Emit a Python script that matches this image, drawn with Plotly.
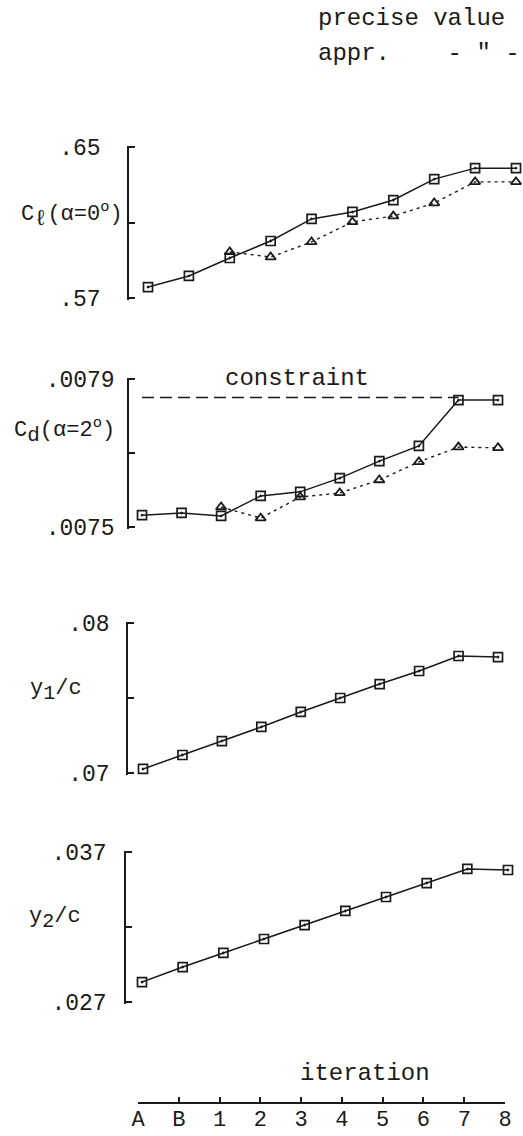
import plotly.graph_objects as go

# ---------------- data ----------------
iterations = ["A", "B", "1", "2", "3", "4", "5", "6", "7", "8"]
appr_iterations = ["1", "2", "3", "4", "5", "6", "7", "8"]

cl_precise = [0.5758, 0.5817, 0.5912, 0.6002, 0.6119, 0.6156, 0.6219, 0.6330, 0.6388, 0.6388]
cl_appr = [0.5944, 0.5917, 0.5997, 0.6103, 0.6134, 0.6203, 0.6315, 0.6315]

cd_precise = [0.007532, 0.007538, 0.007530, 0.007584, 0.007595, 0.007632, 0.007678, 0.007719, 0.007843, 0.007843]
cd_appr = [0.007554, 0.007524, 0.007581, 0.007592, 0.007627, 0.007676, 0.007716, 0.007714]
cd_constraint = 0.00785
constraint_span = ["A", "7"]

y1_precise = [0.07027, 0.07120, 0.07213, 0.07307, 0.07407, 0.07500, 0.07593, 0.07680, 0.07780, 0.07773]
y2_precise = [0.02833, 0.02933, 0.03027, 0.03120, 0.03213, 0.03307, 0.03400, 0.03493, 0.03587, 0.03580]

y_ranges = [(0.57, 0.65), (0.0075, 0.0079), (0.07, 0.08), (0.027, 0.037)]
y_tick_labels = [(".57", ".65"), (".0075", ".0079"), (".07", ".08"), (".027", ".037")]
y_titles = [
    "C<sub><span style='font-size:22px'>ℓ</span></sub>(α=0<sup>o</sup>)",
    "C<sub><span style='font-size:21px'>d</span></sub>(α=2<sup>o</sup>)",
    "y<sub><span style='font-size:20px'>1</span></sub>/c",
    "y<sub><span style='font-size:20px'>2</span></sub>/c",
]

# ---------------- layout geometry (pixels) ----------------
W, H = 523, 1136
FONT = "Liberation Mono, Courier New, monospace"
INK = "#1a1a1a"
PAD = 1.5  # px of extra axis length so the end ticks are kept


def fx(p):
    return p / W


def fy(p):
    return 1 - p / H


# x of A, x of 8, y-top, y-bottom, axis line x, label standoff, title center (x, y)
panels = [
    (148, 516, 147, 298, 128, 22, (72, 215)),
    (142, 498, 379, 527, 128, 8, (64, 430)),
    (143, 498, 623, 773, 127, 12, (56, 690)),
    (142, 508, 852, 1002, 125, 13, (55, 918)),
]

fig = go.Figure()

line_solid = dict(color=INK, width=1.5)
line_dot = dict(color=INK, width=1.4, dash="3px,4px")
sq = dict(symbol="square-open-dot", size=9, color=INK, line=dict(width=1.7, color=INK))
tri = dict(symbol="triangle-up-open", size=9, color=INK, line=dict(width=1.8, color=INK))

# panel 1
fig.add_trace(go.Scatter(x=appr_iterations, y=cl_appr, mode="lines+markers", line=line_dot,
                         marker=tri, xaxis="x", yaxis="y", cliponaxis=False, name="appr."))
fig.add_trace(go.Scatter(x=iterations, y=cl_precise, mode="lines+markers", line=line_solid,
                         marker=sq, xaxis="x", yaxis="y", cliponaxis=False, name="precise value"))
# panel 2
fig.add_trace(go.Scatter(x=constraint_span, y=[cd_constraint, cd_constraint], mode="lines",
                         line=dict(color=INK, width=1.4, dash="12px,6px"), xaxis="x2", yaxis="y2",
                         cliponaxis=False, name="constraint"))
fig.add_trace(go.Scatter(x=appr_iterations, y=cd_appr, mode="lines+markers", line=line_dot,
                         marker=tri, xaxis="x2", yaxis="y2", cliponaxis=False, name="appr."))
fig.add_trace(go.Scatter(x=iterations, y=cd_precise, mode="lines+markers", line=line_solid,
                         marker=sq, xaxis="x2", yaxis="y2", cliponaxis=False, name="precise value"))
# panel 3
fig.add_trace(go.Scatter(x=iterations, y=y1_precise, mode="lines+markers", line=line_solid,
                         marker=sq, xaxis="x3", yaxis="y3", cliponaxis=False, name="precise value"))
# panel 4
fig.add_trace(go.Scatter(x=iterations, y=y2_precise, mode="lines+markers", line=line_solid,
                         marker=sq, xaxis="x4", yaxis="y4", cliponaxis=False, name="precise value"))
# bottom iteration axis carrier
fig.add_trace(go.Scatter(x=iterations, y=[0] * len(iterations), mode="markers",
                         marker=dict(opacity=0), xaxis="x5", yaxis="y5", hoverinfo="skip",
                         showlegend=False))

layout = dict(
    template="none",
    width=W, height=H,
    margin=dict(l=0, r=0, t=0, b=0, pad=0, autoexpand=False),
    paper_bgcolor="white", plot_bgcolor="white",
    showlegend=False,
    font=dict(family=FONT, color=INK, size=22),
)

annotations = []
for i, (xl, xr, yt, yb, ax_x, standoff, (tx, ty)) in enumerate(panels):
    k = "" if i == 0 else str(i + 1)
    lo, hi = y_ranges[i]
    lo_lab, hi_lab = y_tick_labels[i]
    ext = (hi - lo) * PAD / (yb - yt)
    layout["xaxis" + k] = dict(
        domain=[fx(xl), fx(xr)], anchor="y" + k, type="category",
        categoryorder="array", categoryarray=iterations,
        range=[0, len(iterations) - 1], visible=False, automargin=False,
    )
    layout["yaxis" + k] = dict(
        domain=[fy(yb + PAD), fy(yt - PAD)], anchor="free", position=fx(ax_x),
        range=[lo - ext, hi + ext], showgrid=False, zeroline=False, automargin=False,
        showline=True, linecolor=INK, linewidth=1.5,
        ticks="inside", ticklen=6, tickwidth=1.5, tickcolor=INK,
        tickvals=[lo, (lo + hi) / 2, hi], ticktext=[lo_lab, "", hi_lab],
        tickfont=dict(family=FONT, size=23, color=INK),
        ticklabelstandoff=standoff,
    )
    annotations.append(dict(
        x=fx(tx), y=fy(ty), xref="paper", yref="paper", text=y_titles[i],
        showarrow=False, xanchor="center", yanchor="middle",
        font=dict(family=FONT, size=22, color=INK),
    ))

layout["xaxis5"] = dict(
    domain=[fx(138), fx(505)], anchor="y5", type="category",
    categoryorder="array", categoryarray=iterations,
    range=[0, len(iterations) - 1], showgrid=False, zeroline=False, automargin=False,
    showline=True, linecolor=INK, linewidth=1.5,
    ticks="inside", ticklen=5, tickwidth=1.5, tickcolor=INK,
    tickvals=iterations, tickfont=dict(family=FONT, size=22, color=INK),
    ticklabelstandoff=-4,
)
layout["yaxis5"] = dict(domain=[fy(1102), fy(1090)], visible=False, range=[0, 1], automargin=False)

annotations += [
    dict(x=fx(297), y=fy(378), xref="paper", yref="paper", text="constraint",
         showarrow=False, xanchor="center", yanchor="middle",
         font=dict(family=FONT, size=24, color=INK)),
    dict(x=fx(365), y=fy(1073), xref="paper", yref="paper", text="iteration",
         showarrow=False, xanchor="center", yanchor="middle",
         font=dict(family=FONT, size=24, color=INK)),
    dict(x=fx(316), y=fy(18), xref="paper", yref="paper", text="precise value",
         showarrow=False, xanchor="left", yanchor="middle",
         font=dict(family=FONT, size=24, color=INK)),
    dict(x=fx(316), y=fy(54), xref="paper", yref="paper", text="appr.    - \" -",
         showarrow=False, xanchor="left", yanchor="middle",
         font=dict(family=FONT, size=24, color=INK)),
]
layout["annotations"] = annotations

fig.update_layout(**layout)
fig.write_html("out.html")
